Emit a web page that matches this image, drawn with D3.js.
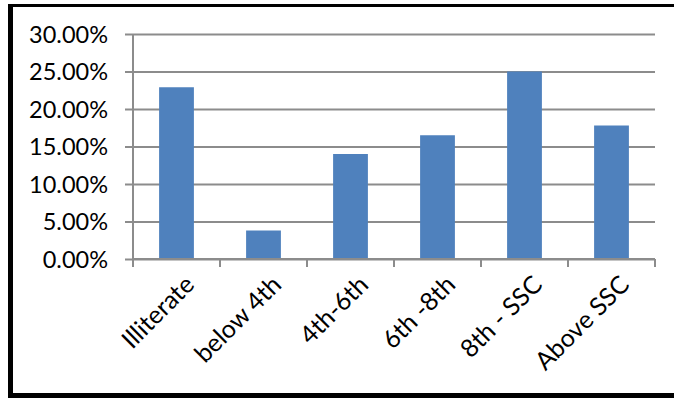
<!DOCTYPE html>
<html>
<head>
<meta charset="utf-8">
<script src="https://cdn.jsdelivr.net/npm/d3@7"></script>
<style>
  html, body { margin: 0; padding: 0; background: #fff; }
  svg { display: block; }
  text { font-family: "Lato", "Open Sans", sans-serif; fill: #000; }
</style>
</head>
<body>
<svg id="chart" width="674" height="398"></svg>
<script>
// Share of respondents by education level
const categories = ["Illiterate", "below 4th", "4th-6th", "6th -8th", "8th - SSC", "Above SSC"];
const shares = [0.229, 0.038, 0.140, 0.165, 0.250, 0.178];
const yTicks = [0, 0.05, 0.10, 0.15, 0.20, 0.25, 0.30];

const svg = d3.select("#chart");
const W = 674, H = 398;

// Chart frame
svg.append("rect").attr("x", 0).attr("y", 0).attr("width", W).attr("height", H).attr("fill", "#fff");
svg.append("line").attr("x1", 10.5).attr("x2", 10.5).attr("y1", 4).attr("y2", 398)
  .attr("stroke", "#000").attr("stroke-width", 5);
svg.append("line").attr("x1", 8).attr("x2", 674).attr("y1", 5.5).attr("y2", 5.5)
  .attr("stroke", "#000").attr("stroke-width", 3);
svg.append("line").attr("x1", 8).attr("x2", 674).attr("y1", 395.5).attr("y2", 395.5)
  .attr("stroke", "#000").attr("stroke-width", 5);

const plot = { left: 133, right: 655, top: 34, bottom: 259 };

const x = d3.scaleBand().domain(categories).range([plot.left, plot.right]).paddingInner(0.6).paddingOuter(0.3);
const y = d3.scaleLinear().domain([0, 0.30]).range([plot.bottom, plot.top]);

const fmt = d => (d * 100).toFixed(2) + "%";

// Horizontal gridlines with value labels
const yAxis = d3.axisLeft(y).tickValues(yTicks).tickFormat(fmt)
  .tickSize(-(plot.right - plot.left + 8)).tickPadding(16);
const gy = svg.append("g").attr("transform", `translate(${plot.left - 8},0)`).call(yAxis);
gy.select(".domain").remove();
gy.selectAll(".tick line").attr("stroke", "#8c8c8c").attr("stroke-width", 2);
gy.selectAll(".tick text").style("font-size", "23.5px").style("font-family", "Lato, sans-serif")
  .attr("x", -17).attr("dy", "0.36em");

// Vertical axis line
svg.append("line").attr("x1", plot.left).attr("x2", plot.left).attr("y1", plot.top).attr("y2", plot.bottom)
  .attr("stroke", "#8c8c8c").attr("stroke-width", 2);

// Bars
svg.append("g").selectAll("rect").data(categories).join("rect")
  .attr("x", d => x(d))
  .attr("width", x.bandwidth())
  .attr("y", (d, i) => y(shares[i]))
  .attr("height", (d, i) => y(0) - y(shares[i]))
  .attr("fill", "#4f81bd");

// Category axis: ticks at band boundaries
const bounds = d3.range(categories.length + 1).map(i => plot.left + i * (plot.right - plot.left) / categories.length);
const gx = svg.append("g");
gx.append("line").attr("x1", plot.left).attr("x2", plot.right).attr("y1", plot.bottom).attr("y2", plot.bottom)
  .attr("stroke", "#8c8c8c").attr("stroke-width", 2);
gx.selectAll("line.tk").data(bounds).join("line").attr("class", "tk")
  .attr("x1", d => d).attr("x2", d => d).attr("y1", plot.bottom).attr("y2", plot.bottom + 8)
  .attr("stroke", "#8c8c8c").attr("stroke-width", 2);

gx.selectAll("text").data(categories).join("text")
  .attr("transform", d => `translate(${x(d) + x.bandwidth() / 2 + 6},${plot.bottom + 14}) rotate(-45)`)
  .attr("text-anchor", "end")
  .attr("dy", "0.75em")
  .style("font-size", "25px")
  .text(d => d);
</script>
</body>
</html>
